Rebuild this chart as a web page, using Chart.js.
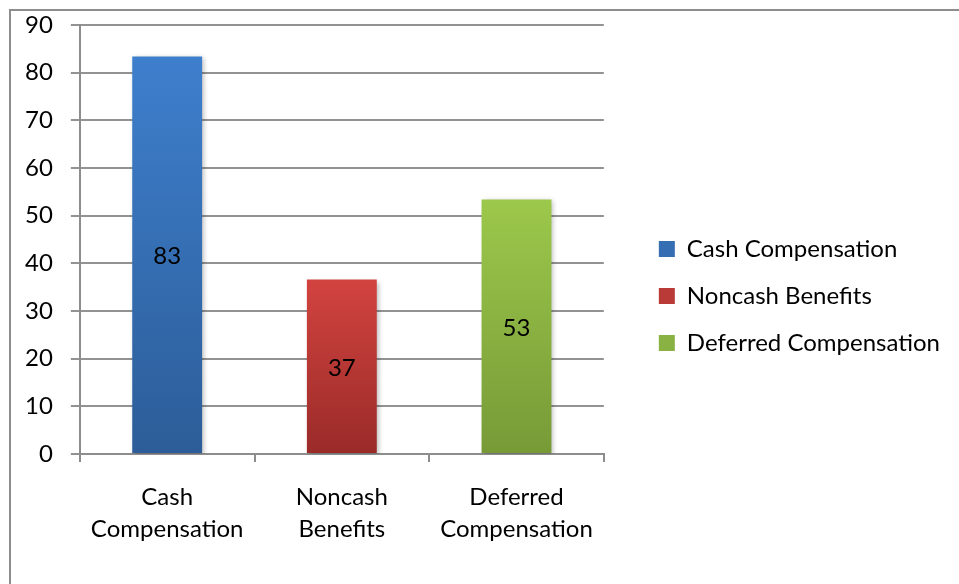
<!DOCTYPE html>
<html>
<head>
<meta charset="utf-8">
<script src="https://cdn.jsdelivr.net/npm/chart.js@4/dist/chart.umd.min.js"></script>
<style>
  html, body { margin: 0; padding: 0; background: #fff; }
  #wrap { position: relative; width: 959px; height: 584px; overflow: hidden; }
  #frame { position: absolute; left: 9px; top: 9px; width: 980px; height: 620px; border: 2px solid #8d8d8d; box-sizing: border-box; }
  canvas { position: absolute; left: 0; top: 0; }
</style>
</head>
<body>
<div id="wrap">
  <div id="frame"></div>
  <canvas id="compChart" width="959" height="584"></canvas>
</div>
<script>
// categories and values
const categories = ['Cash Compensation', 'Noncash Benefits', 'Deferred Compensation'];
const axisLabels = [['Cash', 'Compensation'], ['Noncash', 'Benefits'], ['Deferred', 'Compensation']];
const values = [83.4, 36.6, 53.4];
const yTicks = [0, 10, 20, 30, 40, 50, 60, 70, 80, 90];

// gradient colours, top then bottom
const topColors = ['#3e7fcd', '#d2433f', '#9cc84b'];
const bottomColors = ['#2c5d98', '#9a2b29', '#779a37'];
const midColors = ['#356eb3', '#b93a37', '#8ab242'];

const FONT = 'Lato, "Open Sans", sans-serif';
const SIZE = 24;

function barGradient(context) {
  const chart = context.chart;
  const i = context.dataIndex;
  if (!chart.chartArea || i === undefined) return midColors[i || 0];
  const y = chart.scales.y;
  const top = y.getPixelForValue(values[i]);
  const bottom = y.getPixelForValue(0);
  const g = chart.ctx.createLinearGradient(0, top, 0, bottom);
  g.addColorStop(0, topColors[i]);
  g.addColorStop(1, bottomColors[i]);
  return g;
}

// soft shadow behind the bars
const shadowPlugin = {
  id: 'barShadow',
  beforeDatasetsDraw(chart) {
    const ctx = chart.ctx;
    ctx.save();
    ctx.shadowColor = 'rgba(0,0,0,0.28)';
    ctx.shadowBlur = 5;
    ctx.shadowOffsetX = 2;
    ctx.shadowOffsetY = 2;
  },
  afterDatasetsDraw(chart) {
    chart.ctx.restore();
  }
};

// value in the middle of each bar
const valueLabels = {
  id: 'valueLabels',
  afterDatasetsDraw(chart) {
    const ctx = chart.ctx;
    const meta = chart.getDatasetMeta(0);
    ctx.save();
    ctx.font = SIZE + 'px ' + FONT;
    ctx.fillStyle = '#000';
    ctx.textAlign = 'center';
    ctx.textBaseline = 'middle';
    meta.data.forEach((bar, i) => {
      const mid = (bar.y + bar.base) / 2;
      ctx.fillText(String(Math.round(values[i])), bar.x, mid + 2);
    });
    ctx.restore();
  }
};

const ctx = document.getElementById('compChart').getContext('2d');
const chart = new Chart(ctx, {
  type: 'bar',
  data: {
    labels: axisLabels,
    datasets: [{
      data: values,
      backgroundColor: barGradient,
      borderWidth: 0,
      categoryPercentage: 1,
      barPercentage: 0.4
    }]
  },
  options: {
    responsive: false,
    animation: false,
    events: [],
    layout: { padding: { left: 7, top: 25, right: 9, bottom: 17 } },
    scales: {
      x: {
        grid: { display: true, drawOnChartArea: false, drawTicks: true, tickLength: 8, color: '#8d8d8d', lineWidth: 2 },
        border: { display: true, color: '#8d8d8d', width: 2 },
        ticks: { color: '#000', font: { family: FONT, size: SIZE, lineHeight: 1.33 }, padding: 19, maxRotation: 0 },
        afterFit(scale) { scale.height = 113; }
      },
      y: {
        min: 0,
        max: 90,
        afterBuildTicks(scale) { scale.ticks = yTicks.map(v => ({ value: v })); },
        afterFit(scale) { scale.paddingTop = 0; },
        grid: { color: '#929292', lineWidth: 2, tickLength: 9 },
        border: { display: true, color: '#8d8d8d', width: 2 },
        ticks: { color: '#000', font: { family: FONT, size: SIZE }, padding: 18 }
      },
      gap: {
        type: 'linear',
        position: 'right',
        display: true,
        grid: { display: false },
        border: { display: false },
        ticks: { display: false },
        afterFit(scale) { scale.width = 32; }
      }
    },
    plugins: {
      legend: {
        position: 'right',
        maxWidth: 400,
        labels: {
          color: '#000',
          font: { family: FONT, size: SIZE },
          boxWidth: 16,
          boxHeight: 16,
          padding: 23,
          generateLabels() {
            return categories.map((c, i) => ({
              text: c,
              fillStyle: midColors[i],
              strokeStyle: midColors[i],
              lineWidth: 0,
              index: i
            }));
          }
        }
      },
      tooltip: { enabled: false }
    }
  },
  plugins: [shadowPlugin, valueLabels]
});
</script>
</body>
</html>
